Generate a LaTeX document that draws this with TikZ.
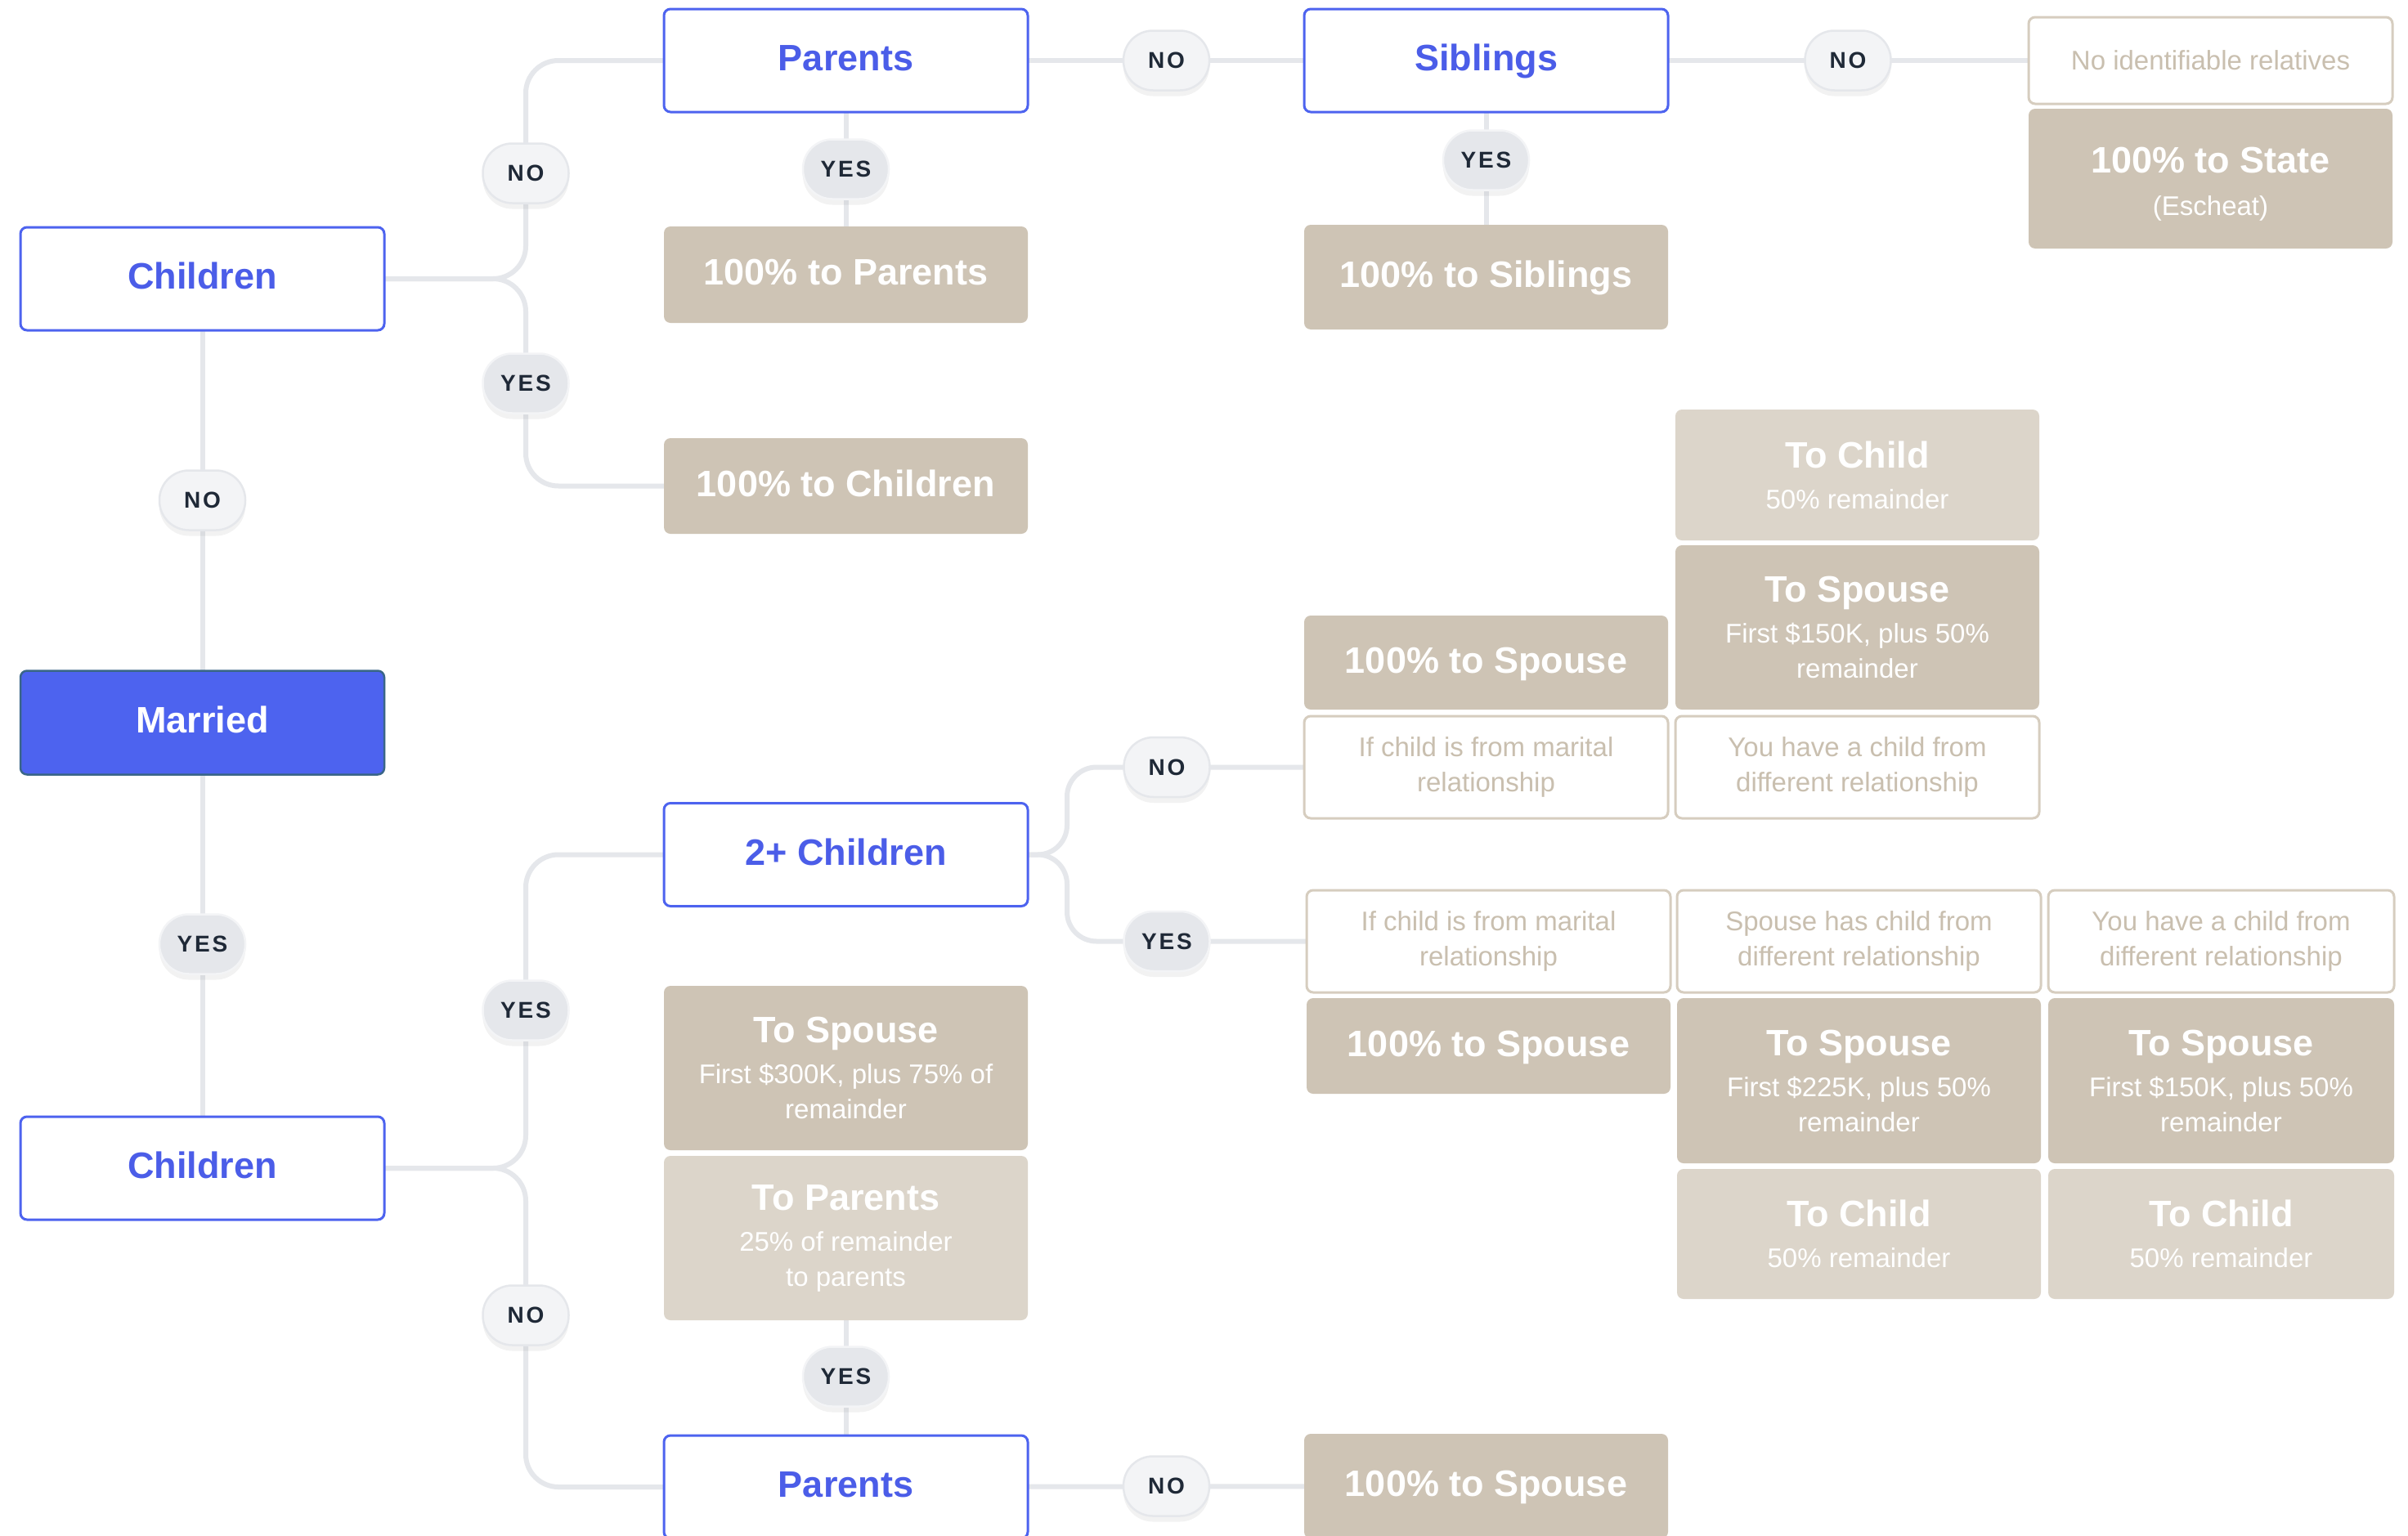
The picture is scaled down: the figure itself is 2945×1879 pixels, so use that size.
\documentclass[tikz,border=0pt]{standalone}
\usepackage{fontspec}
\setmainfont{Liberation Sans}
\newfontfamily\pillfam[LetterSpace=10]{Liberation Sans}
\usetikzlibrary{shadows}
\definecolor{blueA}{HTML}{4D63EF}
\definecolor{blueT}{HTML}{4B5DE8}
\definecolor{marBorder}{HTML}{3A6688}
\definecolor{lineC}{HTML}{E5E7EB}
\definecolor{tanD}{HTML}{CEC4B5}
\definecolor{tanL}{HTML}{DCD5CA}
\definecolor{critB}{HTML}{D6CDBF}
\definecolor{critT}{HTML}{C9BFAF}
\definecolor{pillNo}{HTML}{F3F4F6}
\definecolor{pillYes}{HTML}{E5E7EB}
\definecolor{pillTxt}{HTML}{1F2937}
\newcommand\mytitle{\fontsize{45}{52}\selectfont\bfseries}
\newcommand\mysub{\fontsize{33}{43}\selectfont}
\pgfdeclarelayer{bgzero}
\pgfdeclarelayer{background}
\pgfsetlayers{bgzero,background,main}
\tikzset{
  every node/.style={inner sep=0pt, outer sep=0pt},
  oneline/.style={text height=30pt, text depth=5pt},
  bluebox/.style={draw=blueA, line width=3pt, fill=white, rounded corners=8pt,
    minimum width=445pt, minimum height=126pt, text=blueT, font=\mytitle, oneline},
  marriedbox/.style={draw=marBorder, line width=2.5pt, fill=blueA, rounded corners=8pt,
    minimum width=445pt, minimum height=127pt, text=white, font=\mytitle, oneline},
  resbox/.style={fill=tanD, rounded corners=8pt, text=white, align=center,
    minimum width=445pt},
  reslight/.style={resbox, fill=tanL},
  critbox/.style={draw=critB, line width=3pt, fill=white, rounded corners=8pt,
    text=critT, font=\mysub, align=center, minimum width=445pt, minimum height=125pt},
  pillbase/.style={rounded corners=36pt, minimum width=105pt, minimum height=73pt,
    line width=2.5pt, text=pillTxt,
    font={\pillfam\fontsize{28}{30}\selectfont\bfseries},
    drop shadow={opacity=0.10, shadow xshift=0pt, shadow yshift=-7pt}},
  nopill/.style={pillbase, fill=pillNo, draw=pillYes},
  yespill/.style={pillbase, fill=pillYes, draw=pillNo},
  conn/.style={draw=lineC, line width=6pt, rounded corners=40pt}
}
\begin{document}
\begin{tikzpicture}[x=1pt,y=-1pt]
\begin{pgfonlayer}{bgzero}
  \fill[white] (0,0) rectangle (2945,1879);
\end{pgfonlayer}
\useasboundingbox (0,0) rectangle (2945,1879);

% ---- column A
\node[bluebox] (chA) at (247.5,341) {Children};
\node[marriedbox] (mar) at (247.5,884) {Married};
\node[bluebox] (chB) at (247.5,1429) {Children};

% ---- column B
\node[bluebox] (parT) at (1034.5,74) {Parents};
\node[resbox, minimum height=118pt, font=\mytitle, oneline] (rPar) at (1034.5,336) {100\% to Parents};
\node[resbox, minimum height=117pt, font=\mytitle, oneline] (rCh) at (1034.5,594.5) {100\% to Children};
\node[bluebox] (two) at (1034.5,1045.5) {2+ Children};
\node[resbox, minimum height=201pt, font=\mysub] (sp300) at (1034.5,1306.5)
  {{\mytitle To Spouse}\\[7pt]First \$300K, plus 75\% of\\remainder};
\node[reslight, minimum height=201pt, font=\mysub] (tPar) at (1034.5,1514.5)
  {{\mytitle To Parents}\\[7pt]25\% of remainder\\to parents};
\node[bluebox] (parB) at (1034.5,1819) {Parents};

% ---- column C
\node[bluebox] (sib) at (1817.5,74) {Siblings};
\node[resbox, minimum height=128pt, font=\mytitle, oneline] (rSib) at (1817.5,339) {100\% to Siblings};
\node[resbox, minimum height=115pt, font=\mytitle, oneline] (rSp1) at (1817.5,810.5) {100\% to Spouse};
\node[critbox] (c1) at (1817.5,938.5) {If child is from marital\\relationship};
\node[critbox] (c3) at (1820.5,1151.5) {If child is from marital\\relationship};
\node[resbox, minimum height=117pt, font=\mytitle, oneline] (rSp2) at (1820.5,1279.5) {100\% to Spouse};
\node[resbox, minimum height=128pt, font=\mytitle, oneline] (rSp3) at (1817.5,1818) {100\% to Spouse};

% ---- column D
\node[reslight, minimum height=160pt, font=\mysub] (tCh1) at (2271.5,581)
  {{\mytitle To Child}\\[7pt]50\% remainder};
\node[resbox, minimum height=201pt, font=\mysub] (sp150a) at (2271.5,767.5)
  {{\mytitle To Spouse}\\[7pt]First \$150K, plus 50\%\\remainder};
\node[critbox] (c2) at (2271.5,938.5) {You have a child from\\different relationship};
\node[critbox] (c4) at (2273.5,1151.5) {Spouse has child from\\different relationship};
\node[resbox, minimum height=202pt, font=\mysub] (sp225) at (2273.5,1322)
  {{\mytitle To Spouse}\\[7pt]First \$225K, plus 50\%\\remainder};
\node[reslight, minimum height=159pt, font=\mysub] (tCh2) at (2273.5,1509.5)
  {{\mytitle To Child}\\[7pt]50\% remainder};

% ---- column E
\node[critbox, minimum height=106pt] (noRel) at (2703.5,74) {No identifiable relatives};
\node[resbox, minimum height=171pt, font=\mysub] (state) at (2703.5,218.5)
  {{\mytitle\rule{0pt}{44pt}100\% to State}\\[9pt](Escheat)};
\node[critbox, minimum width=423pt] (c5) at (2716.5,1151.5) {You have a child from\\different relationship};
\node[resbox, minimum height=202pt, minimum width=423pt, font=\mysub] (sp150b) at (2716.5,1322)
  {{\mytitle To Spouse}\\[7pt]First \$150K, plus 50\%\\remainder};
\node[reslight, minimum height=159pt, minimum width=423pt, font=\mysub] (tCh3) at (2716.5,1509.5)
  {{\mytitle To Child}\\[7pt]50\% remainder};

% ---- junction points
\coordinate (j1) at (643,341);
\coordinate (j2) at (643,1429);
\coordinate (j3) at (1305,1045.5);

% ---- connectors
\begin{pgfonlayer}{background}
  \draw[conn] (chA) -- (mar);
  \draw[conn] (mar) -- (chB);
  \draw[conn] (chA.east) -- (j1) |- (parT.west);
  \draw[conn] (chA.east) -- (j1) |- (rCh.west);
  \draw[conn] (parT) -- (rPar);
  \draw[conn] (parT) -- (sib);
  \draw[conn] (sib) -- (rSib);
  \draw[conn] (sib) -- (noRel);
  \draw[conn] (chB.east) -- (j2) |- (two.west);
  \draw[conn] (chB.east) -- (j2) |- (parB.west);
  \draw[conn] (tPar) -- (parB);
  \draw[conn] (parB) -- (rSp3);
  \draw[conn, rounded corners=36pt] (two.east) -- (j3) |- (c1.west);
  \draw[conn, rounded corners=36pt] (two.east) -- (j3) |- (c3.west);
\end{pgfonlayer}

% ---- pills
\node[nopill]  (p1)  at (643,212) {NO};
\node[yespill] (p2)  at (643,469) {YES};
\node[nopill]  (p3)  at (247.5,612) {NO};
\node[yespill] (p4)  at (1034.5,207) {YES};
\node[nopill]  (p5)  at (1426.5,74) {NO};
\node[yespill] (p6)  at (1817.5,196) {YES};
\node[nopill]  (p7)  at (2260,74) {NO};
\node[yespill] (p8)  at (247.5,1155) {YES};
\node[yespill] (p9)  at (643,1236) {YES};
\node[nopill]  (p10) at (643,1609) {NO};
\node[nopill]  (p11) at (1427,938.5) {NO};
\node[yespill] (p12) at (1427,1151.5) {YES};
\node[yespill] (p13) at (1034.5,1684) {YES};
\node[nopill]  (p14) at (1426.5,1818) {NO};
\end{tikzpicture}
\end{document}
